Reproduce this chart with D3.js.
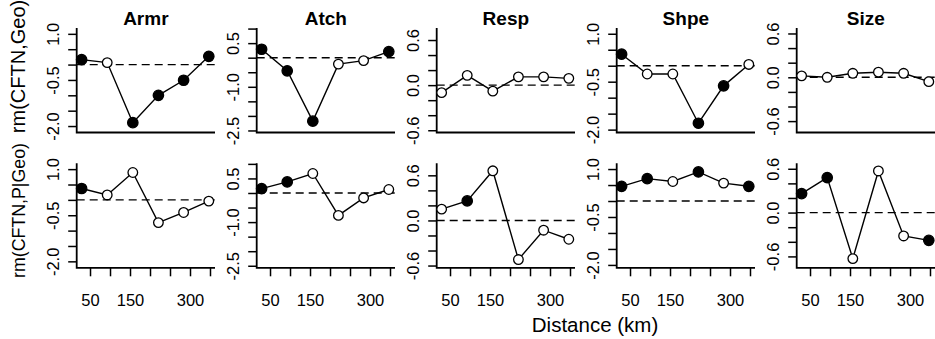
<!DOCTYPE html>
<html>
<head>
<meta charset="utf-8">
<script src="https://cdn.jsdelivr.net/npm/d3@7"></script>
<style>
  body { margin: 0; background: #fff; }
  svg { display: block; }
  text { font-family: "Liberation Sans", Arial, Helvetica, sans-serif; fill: #000; }
</style>
</head>
<body>
<svg id="chart" width="935" height="339"></svg>
<script>
// Traits (panel columns) and distance classes (km)
const traits = ["Armr", "Atch", "Resp", "Shpe", "Size"];
const distances = [29, 93, 157, 221, 284, 347];
const xTicks = [50, 100, 150, 200, 250, 300, 350];
const xTickLabels = ["50", "", "150", "", "", "300", ""];
const rowLabels = ["rm(CFTN,Geo)", "rm(CFTN,P|Geo)"];
const xTitle = "Distance (km)";

// Mantel correlogram, row 1: rm(CFTN,Geo)
const geoArmr = [0.16, 0.065, -1.89, -1.00, -0.51, 0.27];
const geoAtch = [0.29, -0.45, -2.18, -0.22, -0.10, 0.21];
const geoResp = [-0.10, 0.13, -0.08, 0.11, 0.11, 0.09];
const geoShpe = [0.36, -0.26, -0.26, -1.80, -0.63, 0.04];
const geoSize = [0.02, 0.00, 0.055, 0.07, 0.055, -0.06];

// Significant classes (1 = filled symbol), row 1
const geoArmrSig = [1, 0, 1, 1, 1, 1];
const geoAtchSig = [1, 1, 1, 0, 0, 1];
const geoRespSig = [0, 0, 0, 0, 0, 0];
const geoShpeSig = [1, 0, 0, 1, 1, 0];
const geoSizeSig = [0, 0, 0, 0, 0, 0];

// Partial Mantel correlogram, row 2: rm(CFTN,P|Geo)
const parArmr = [0.37, 0.16, 0.89, -0.74, -0.41, -0.04];
const parAtch = [0.15, 0.38, 0.67, -0.77, -0.17, 0.12];
const parResp = [0.15, 0.26, 0.66, -0.52, -0.13, -0.25];
const parShpe = [0.46, 0.70, 0.61, 0.91, 0.56, 0.46];
const parSize = [0.26, 0.48, -0.63, 0.57, -0.32, -0.38];

const parArmrSig = [1, 0, 0, 0, 0, 0];
const parAtchSig = [1, 1, 0, 0, 0, 0];
const parRespSig = [0, 1, 0, 0, 0, 0];
const parShpeSig = [1, 1, 0, 1, 0, 1];
const parSizeSig = [1, 1, 0, 0, 0, 1];

// y-axis limits and ticks per trait
const yLimArmr = [-2.21, 1.19], yTicksArmr = [-2, -1.5, -1, -0.5, 0, 0.5, 1], yLabArmr = ["-2.0", "", "", "-0.5", "", "", "1.0"];
const yLimAtch = [-2.57, 1.02], yTicksAtch = [-2.5, -2, -1.5, -1, -0.5, 0, 0.5, 1], yLabAtch = ["-2.5", "", "", "-1.0", "", "", "0.5", ""];
const yLimResp = [-0.63, 0.76], yTicksResp = [-0.6, -0.4, -0.2, 0, 0.2, 0.4, 0.6], yLabResp = ["-0.6", "", "", "0.0", "", "", "0.6"];
const yLimShpe = [-2.09, 1.18], yTicksShpe = [-2, -1.5, -1, -0.5, 0, 0.5, 1], yLabShpe = ["-2.0", "", "", "-0.5", "", "", "1.0"];
const yLimSize = [-0.756, 0.675], yTicksSize = [-0.6, -0.4, -0.2, 0, 0.2, 0.4, 0.6], yLabSize = ["-0.6", "", "", "0.0", "", "", "0.6"];

const rows = [
  { vals: [geoArmr, geoAtch, geoResp, geoShpe, geoSize], sig: [geoArmrSig, geoAtchSig, geoRespSig, geoShpeSig, geoSizeSig] },
  { vals: [parArmr, parAtch, parResp, parShpe, parSize], sig: [parArmrSig, parAtchSig, parRespSig, parShpeSig, parSizeSig] }
];
const yLims = [yLimArmr, yLimAtch, yLimResp, yLimShpe, yLimSize];
const yTicks = [yTicksArmr, yTicksAtch, yTicksResp, yTicksShpe, yTicksSize];
const yLabs = [yLabArmr, yLabAtch, yLabResp, yLabShpe, yLabSize];

// Panel geometry
const panelLeft0 = 76.7, panelStep = 180, plotW = 138.3;
const panelTop0 = 28, rowStep = 135.3, plotH = 104.5;
const tickLen = 8.5;

const svg = d3.select("#chart");
const x = d3.scaleLinear().domain([16.7, 362.5]).range([0, plotW]);

rows.forEach((row, r) => {
  traits.forEach((trait, c) => {
    const g = svg.append("g")
      .attr("transform", `translate(${panelLeft0 + c * panelStep},${panelTop0 + r * rowStep})`);
    const y = d3.scaleLinear().domain(yLims[c]).range([plotH, 0]);

    // L-shaped frame
    g.append("path")
      .attr("d", `M0,0V${plotH}H${plotW}`)
      .attr("fill", "none").attr("stroke", "#000").attr("stroke-width", 1.8);

    // y axis
    const yAxis = d3.axisLeft(y).tickValues(yTicks[c]).tickSize(tickLen)
      .tickFormat((d, i) => yLabs[c][i]);
    const ya = g.append("g").call(yAxis);
    ya.select(".domain").remove();
    ya.selectAll("line").attr("stroke", "#000").attr("stroke-width", 1.5);
    ya.selectAll("text")
      .attr("x", null).attr("dy", null)
      .attr("transform", `translate(${-17.4},0) rotate(-90)`)
      .attr("text-anchor", "middle")
      .style("font-size", "16.5px");

    // x axis (bottom row only)
    if (r === 1) {
      const xAxis = d3.axisBottom(x).tickValues(xTicks).tickSize(tickLen)
        .tickFormat((d, i) => xTickLabels[i]);
      const xa = g.append("g").attr("transform", `translate(0,${plotH})`).call(xAxis);
      xa.select(".domain").remove();
      xa.selectAll("line").attr("stroke", "#000").attr("stroke-width", 1.5);
      xa.selectAll("text").attr("y", 38).attr("dy", null).style("font-size", "16.5px");
    }

    // zero reference
    g.append("line")
      .attr("x1", 0).attr("x2", plotW)
      .attr("y1", y(0)).attr("y2", y(0))
      .attr("stroke", "#000").attr("stroke-width", 1.4).attr("stroke-dasharray", "8,5");

    // correlogram line and symbols
    const pts = distances.map((d, i) => ({ d, v: row.vals[c][i], s: row.sig[c][i] }));
    g.append("path").datum(pts)
      .attr("d", d3.line().x(p => x(p.d)).y(p => y(p.v)))
      .attr("fill", "none").attr("stroke", "#000").attr("stroke-width", 1.4);
    g.selectAll("circle.pt").data(pts).join("circle")
      .attr("class", "pt")
      .attr("cx", p => x(p.d)).attr("cy", p => y(p.v))
      .attr("r", p => p.s ? 5.2 : 4.8)
      .attr("fill", p => p.s ? "#000" : "#fff")
      .attr("stroke", "#000").attr("stroke-width", 1.3);

    // trait title
    if (r === 0) {
      g.append("text")
        .attr("x", plotW / 2).attr("y", -3)
        .attr("text-anchor", "middle")
        .style("font-size", "19px").style("font-weight", "bold")
        .text(trait);
    }
  });
});

// row labels (rotated, reading bottom to top)
const rowLabelPos = [{ cy: 66.5, size: 20 }, { cy: 210.5, size: 17.8 }];
rowLabelPos.forEach((p, i) => {
  svg.append("text")
    .attr("transform", `translate(24.5,${p.cy}) rotate(-90)`)
    .attr("text-anchor", "middle")
    .style("font-size", p.size + "px")
    .text(rowLabels[i]);
});

// shared x-axis title
svg.append("text")
  .attr("x", 595).attr("y", 331.5)
  .attr("text-anchor", "middle")
  .style("font-size", "20.5px")
  .text(xTitle);
</script>
</body>
</html>
